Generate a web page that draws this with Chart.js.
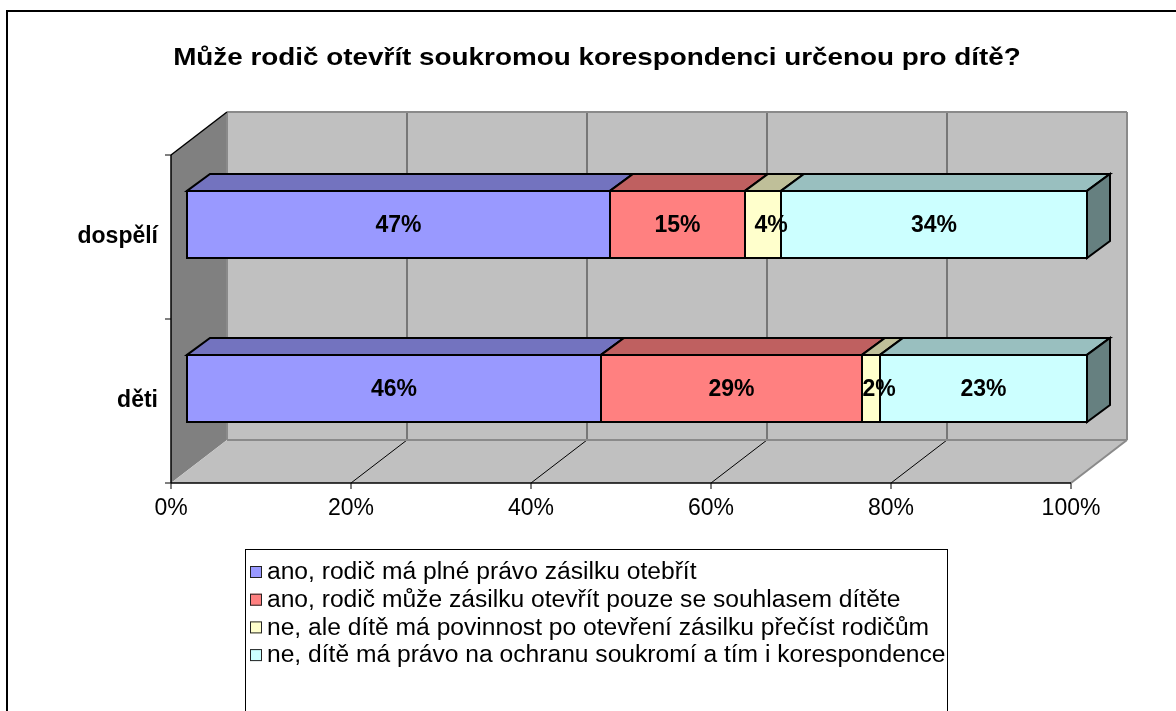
<!DOCTYPE html>
<html>
<head>
<meta charset="UTF-8" />
<title>Korespondence</title>
<style>
  body { margin: 0; background: #ffffff; }
</style>
</head>
<body>
<canvas id="myChart" width="1176" height="711"></canvas>
<script src="https://cdn.jsdelivr.net/npm/chart.js@4"></script>
<script>
var titleText = 'Může rodič otevřít soukromou korespondenci určenou pro dítě?';
var categories = ['dospělí', 'děti'];
var seriesNames = [
  'ano, rodič má plné právo zásilku otebřít',
  'ano, rodič může zásilku otevřít pouze se souhlasem dítěte',
  'ne, ale dítě má povinnost po otevření zásilku přečíst rodičům',
  'ne, dítě má právo na ochranu soukromí a tím i korespondence'
];
var anoPlne = [47, 46];
var anoSouhlas = [15, 29];
var nePrecist = [4, 2];
var neSoukromi = [34, 23];
var seriesColors = ['#9999FF', '#FF8080', '#FFFFCC', '#CCFFFF'];

var FONT = "'Liberation Sans', Arial, sans-serif";
// 3d look (excel style)
var wallDepth = { x: 56, y: 43 };
var barShift = { x: 16, y: 12.5 };
var barDepth = { x: 23, y: 17 };

function shade(hex, f) {
  var r = parseInt(hex.substr(1, 2), 16), g = parseInt(hex.substr(3, 2), 16), b = parseInt(hex.substr(5, 2), 16);
  return 'rgb(' + Math.round(r * f) + ',' + Math.round(g * f) + ',' + Math.round(b * f) + ')';
}

function poly(ctx, pts, fill, stroke, lw) {
  ctx.beginPath();
  ctx.moveTo(pts[0][0], pts[0][1]);
  for (var i = 1; i < pts.length; i++) ctx.lineTo(pts[i][0], pts[i][1]);
  ctx.closePath();
  if (fill) { ctx.fillStyle = fill; ctx.fill(); }
  if (stroke) { ctx.strokeStyle = stroke; ctx.lineWidth = lw || 1; ctx.stroke(); }
}

function line(ctx, x1, y1, x2, y2, color, lw) {
  ctx.beginPath();
  ctx.moveTo(x1, y1);
  ctx.lineTo(x2, y2);
  ctx.strokeStyle = color;
  ctx.lineWidth = lw;
  ctx.stroke();
}

// text stretched sideways a bit, like the scaled excel picture
function wideText(ctx, txt, x, y, sx) {
  ctx.save();
  ctx.translate(x, y);
  ctx.scale(sx, 1);
  ctx.fillText(txt, 0, 0);
  ctx.restore();
}

var plot3d = {
  id: 'plot3d',
  beforeDatasetsDraw: function(chart) {
    var ctx = chart.ctx, a = chart.chartArea, xs = chart.scales.x, ys = chart.scales.y;
    var L = a.left, R = a.right, T = a.top, B = a.bottom, dx = wallDepth.x, dy = wallDepth.y;
    ctx.save();
    // walls + floor
    poly(ctx, [[L + dx, T - dy], [R + dx, T - dy], [R + dx, B - dy], [L + dx, B - dy]], '#C0C0C0');
    poly(ctx, [[L, T], [L + dx, T - dy], [L + dx, B - dy], [L, B]], '#808080');
    poly(ctx, [[L, B], [L + dx, B - dy], [R + dx, B - dy], [R, B]], '#C0C0C0');

    var ticks = xs.ticks;
    for (var i = 0; i < ticks.length; i++) {
      var px = xs.getPixelForValue(ticks[i].value);
      if (ticks[i].value > 0 && ticks[i].value < 100) {
        line(ctx, px + dx, T - dy, px + dx, B - dy, '#2e2e2e', 1);
        line(ctx, px, B, px + dx, B - dy, '#000000', 1);
      }
      line(ctx, px, B, px, B + 6, '#000000', 1);
    }
    // wall edges
    line(ctx, L + dx, T - dy, R + dx, T - dy, '#8a8a8a', 2);
    line(ctx, R + dx, T - dy, R + dx, B - dy, '#8a8a8a', 2);
    line(ctx, L + dx, B - dy, R + dx, B - dy, '#8a8a8a', 2);
    line(ctx, L + dx, T - dy, L + dx, B - dy, '#8a8a8a', 2);
    line(ctx, R, B, R + dx, B - dy, '#8a8a8a', 2);
    line(ctx, L, T, L + dx, T - dy, '#000000', 1.5);
    // axes
    line(ctx, L, T, L, B, '#000000', 1.5);
    line(ctx, L, B, R, B, '#000000', 1.5);
    var mid = (ys.getPixelForValue(0) + ys.getPixelForValue(1)) / 2;
    [T, mid, B].forEach(function(y) { line(ctx, L - 6, y, L, y, '#000000', 1); });

    // bars
    var n = chart.data.datasets.length;
    for (var c = 0; c < categories.length; c++) {
      for (var d = 0; d < n; d++) {
        var el = chart.getDatasetMeta(d).data[c];
        var p = el.getProps(['x', 'y', 'base', 'height'], true);
        var col = chart.data.datasets[d].backgroundColor;
        var x0 = Math.min(p.base, p.x) + barShift.x, x1 = Math.max(p.base, p.x) + barShift.x;
        var yT = p.y - p.height / 2 - barShift.y, yB = p.y + p.height / 2 - barShift.y;
        poly(ctx, [[x0, yT], [x1, yT], [x1, yB], [x0, yB]], col, '#000000', 2);
        poly(ctx, [[x0, yT], [x0 + barDepth.x, yT - barDepth.y], [x1 + barDepth.x, yT - barDepth.y], [x1, yT]], shade(col, 0.75), '#000000', 2);
        if (d === n - 1) {
          poly(ctx, [[x1, yT], [x1 + barDepth.x, yT - barDepth.y], [x1 + barDepth.x, yB - barDepth.y], [x1, yB]], shade(col, 0.5), '#000000', 2);
        }
      }
      // value labels on the front faces
      for (var d2 = 0; d2 < n; d2++) {
        var el2 = chart.getDatasetMeta(d2).data[c];
        var q = el2.getProps(['x', 'y', 'base', 'height'], true);
        var txt = chart.data.datasets[d2].data[c] + '%';
        ctx.font = 'bold 23px ' + FONT;
        ctx.fillStyle = '#000000';
        ctx.textAlign = 'center';
        ctx.textBaseline = 'middle';
        var cx = (q.base + q.x) / 2 + barShift.x;
        if (ctx.measureText(txt).width > Math.abs(q.x - q.base) - 6) cx += 8; // narrow pieces
        ctx.fillText(txt, cx, q.y - barShift.y + 1);
      }
    }
    ctx.restore();
    return false;
  },
  afterDraw: function(chart) {
    var ctx = chart.ctx;
    ctx.save();
    // outer frame
    ctx.strokeStyle = '#000000';
    ctx.lineWidth = 2;
    ctx.strokeRect(7, 11, 1300, 900);
    // title
    ctx.font = 'bold 24px ' + FONT;
    ctx.fillStyle = '#000000';
    ctx.textAlign = 'center';
    ctx.textBaseline = 'middle';
    wideText(ctx, titleText, 597, 58, 1.16);
    // legend box
    ctx.lineWidth = 1;
    ctx.strokeRect(245.5, 549.5, 702, 300);
    ctx.font = '23px ' + FONT;
    ctx.textAlign = 'left';
    chart.data.datasets.forEach(function(ds, i) {
      var y = 572 + i * 27.7;
      ctx.fillStyle = ds.backgroundColor;
      ctx.fillRect(250, y - 6, 12, 12);
      ctx.strokeStyle = '#222222';
      ctx.lineWidth = 1;
      ctx.strokeRect(250.5, y - 5.5, 11, 11);
      ctx.fillStyle = '#000000';
      wideText(ctx, ds.label, 267, y + 1, 1.07);
    });
    ctx.restore();
  }
};

var datasets = [anoPlne, anoSouhlas, nePrecist, neSoukromi].map(function(vals, i) {
  return {
    label: seriesNames[i],
    data: vals,
    backgroundColor: seriesColors[i],
    barPercentage: 0.41,
    categoryPercentage: 1
  };
});

new Chart(document.getElementById('myChart'), {
  type: 'bar',
  data: { labels: categories, datasets: datasets },
  plugins: [plot3d],
  options: {
    responsive: false,
    animation: false,
    events: [],
    indexAxis: 'y',
    layout: { padding: { top: 155, right: 105, left: 0, bottom: 0 } },
    plugins: { legend: { display: false }, title: { display: false }, tooltip: { enabled: false } },
    scales: {
      x: {
        stacked: true,
        min: 0,
        max: 100,
        grid: { display: false, drawTicks: false },
        border: { display: false },
        ticks: {
          stepSize: 20,
          padding: 12,
          color: '#000000',
          font: { family: FONT, size: 23 },
          callback: function(v) { return v + '%'; }
        },
        afterFit: function(s) { s.height = 228; }
      },
      y: {
        stacked: true,
        grid: { display: false, drawTicks: false },
        border: { display: false },
        ticks: {
          padding: 13,
          color: '#000000',
          font: { family: FONT, size: 23, weight: 'bold' }
        },
        afterFit: function(s) { s.width = 171; }
      }
    }
  }
});
</script>
</body>
</html>
